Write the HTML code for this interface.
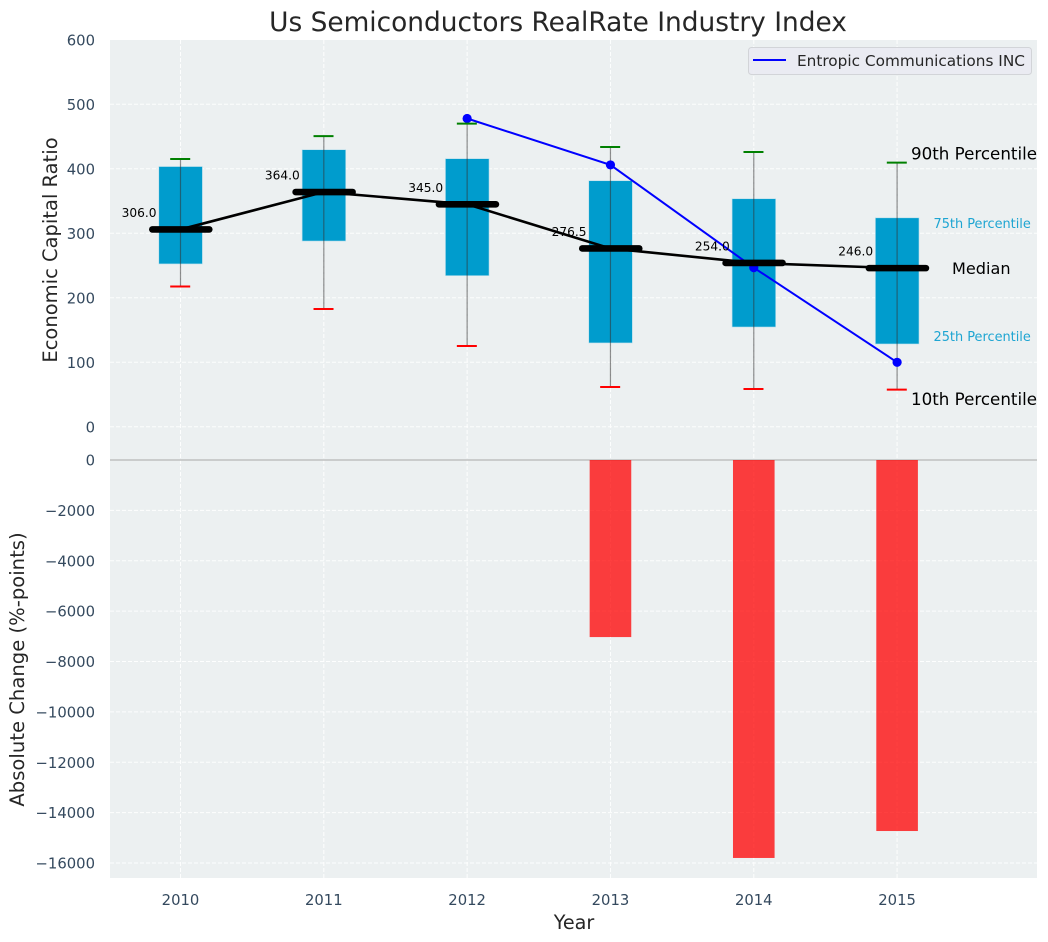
<!DOCTYPE html>
<html>
<head>
<meta charset="utf-8">
<title>Us Semiconductors RealRate Industry Index</title>
<style>
html,body{margin:0;padding:0;background:#fff;width:1048px;height:942px;overflow:hidden}
svg{display:block}
text{font-family:"DejaVu Sans","Liberation Sans",sans-serif}
</style>
</head>
<body>
<svg id="chart" width="1048" height="942" viewBox="0 0 1048 942" xmlns="http://www.w3.org/2000/svg">
  <rect x="110" y="40" width="927" height="838" fill="#ecf0f1"/>
  <g id="grid"></g>
  <line x1="110" x2="1037" y1="460" y2="460" stroke="#bfbfbf" stroke-width="1.5"/>
  <g id="bars"></g>
  <g id="boxes"></g>
  <g id="whiskers"></g>
  <g id="company"></g>
  <g id="medianline"></g>
  <g id="caps"></g>
  <g id="labels"></g>
  <g id="yticks"></g>
  <g id="xticks"></g>

  <text x="558" y="31" text-anchor="middle" font-size="26.4" fill="#262626">Us Semiconductors RealRate Industry Index</text>
  <text x="574" y="929" text-anchor="middle" font-size="19.2" fill="#262626">Year</text>
  <text transform="translate(57,250) rotate(-90)" text-anchor="middle" font-size="19.5" fill="#262626">Economic Capital Ratio</text>
  <text transform="translate(24,669.5) rotate(-90)" text-anchor="middle" font-size="19.6" fill="#262626">Absolute Change (%-points)</text>

  <g>
    <rect x="748.5" y="47.5" width="283" height="27" rx="3" fill="#eaeaf2" fill-opacity="0.9" stroke="#d2d4d8" stroke-width="1"/>
    <line x1="753" x2="786" y1="60" y2="60" stroke="#0000ff" stroke-width="2"/>
    <text x="797" y="66" font-size="15.3" fill="#262626">Entropic Communications INC</text>
  </g>

  <g>
    <text x="911" y="159.5" font-size="16.7" fill="#000">90th Percentile</text>
    <text x="933.5" y="228" font-size="12.9" fill="#1ea5d2">75th Percentile</text>
    <text x="952" y="274" font-size="16.1" fill="#000">Median</text>
    <text x="933.5" y="341" font-size="12.9" fill="#1ea5d2">25th Percentile</text>
    <text x="911" y="405" font-size="16.7" fill="#000">10th Percentile</text>
  </g>
</svg>
<script>
const years = [2010, 2011, 2012, 2013, 2014, 2015];
const p90 = [415.2, 450.6, 470, 433.8, 426, 409.5];
const p75 = [403.5, 429.6, 415.7, 381.5, 353.6, 324];
const medians = [306, 364, 345, 276.5, 254, 246];
const p25 = [252.5, 288, 234.3, 130, 154.7, 128.4];
const p10 = [217.5, 182.6, 125.3, 61.7, 58.6, 57.6];
const companyYears = [2012, 2013, 2014, 2015];
const companyValues = [478, 406, 246.7, 100];
const changeYears = [2013, 2014, 2015];
const changeValues = [-7030, -15800, -14730];
const topTicks = [0, 100, 200, 300, 400, 500, 600];
const bottomTicks = [0, -2000, -4000, -6000, -8000, -10000, -12000, -14000, -16000];

const NS = 'http://www.w3.org/2000/svg';
function xScale(year) { return 180.5 + (year - 2010) * 143.32; }
function yTop(v) { return 426.8 - v * 0.645; }
function yBottom(v) { return 460 - v * 0.025188; }
function make(parent, tag, attrs, text) {
  const el = document.createElementNS(NS, tag);
  for (const k in attrs) el.setAttribute(k, attrs[k]);
  if (text !== undefined) el.textContent = text;
  document.getElementById(parent).appendChild(el);
  return el;
}
function fmtTick(v) { return v < 0 ? '\u2212' + Math.abs(v) : String(v); }

const gridStyle = { stroke: '#ffffff', 'stroke-width': 1, 'stroke-dasharray': '4 2', 'stroke-opacity': 0.9 };
years.forEach(function (yr) {
  const x = xScale(yr);
  const vg = make('grid', 'line', Object.assign({ x1: x, x2: x, y1: 40, y2: 878 }, gridStyle));
  
  
  const t = make('xticks', 'text', { x: x, y: 905, 'text-anchor': 'middle', 'font-size': 14.8, fill: '#34495e' }, String(yr));
  
  
});
topTicks.forEach(function (v) {
  const y = yTop(v);
  if (v < 600) {
    const g = make('grid', 'line', Object.assign({ x1: 110, x2: 1037, y1: y, y2: y }, gridStyle));
    
    
  }
  const t = make('yticks', 'text', { x: 95, y: y + 5.5, 'text-anchor': 'end', 'font-size': 14.8, fill: '#34495e' }, fmtTick(v));
  
  
});
bottomTicks.forEach(function (v) {
  const y = yBottom(v);
  if (v !== 0) {
    const g = make('grid', 'line', Object.assign({ x1: 110, x2: 1037, y1: y, y2: y }, gridStyle));
    
    
  }
  const t = make('yticks', 'text', { x: 95, y: y + 5.5, 'text-anchor': 'end', 'font-size': 14.8, fill: '#34495e' }, fmtTick(v));
  
  
});

changeYears.forEach(function (yr, i) {
  const x = xScale(yr);
  const y0 = yBottom(0);
  const y1 = yBottom(changeValues[i]);
  const b = make('bars', 'rect', { x: x - 20.8, y: y0, width: 41.6, height: y1 - y0, fill: '#ff0000', 'fill-opacity': 0.75 });
  
  
});

years.forEach(function (yr, i) {
  const x = xScale(yr);
  const yHi = yTop(p75[i]);
  const yLo = yTop(p25[i]);
  const box = make('boxes', 'rect', { x: x - 21.7, y: yHi, width: 43.6, height: yLo - yHi, fill: '#009ccd', stroke: '#b9dfec', 'stroke-width': 0.6 });
  
  

  const w = make('whiskers', 'line', { x1: x, x2: x, y1: yTop(p90[i]), y2: yTop(p10[i]), stroke: '#333333', 'stroke-opacity': 0.55, 'stroke-width': 1.2 });
  
  

  const cu = make('caps', 'line', { x1: x - 10.3, x2: x + 9.7, y1: yTop(p90[i]), y2: yTop(p90[i]), stroke: '#008000', 'stroke-width': 2 });
  
  

  const cl = make('caps', 'line', { x1: x - 10.3, x2: x + 9.7, y1: yTop(p10[i]), y2: yTop(p10[i]), stroke: '#ff0000', 'stroke-width': 2 });
  
  

  const m = make('caps', 'line', { x1: x - 28.2, x2: x + 28.8, y1: yTop(medians[i]), y2: yTop(medians[i]), stroke: '#000000', 'stroke-width': 6.6, 'stroke-linecap': 'round' });
  
  

  const lab = make('labels', 'text', { x: x - 24, y: yTop(medians[i]) - 12.5, 'text-anchor': 'end', 'font-size': 12.2, fill: '#000000' }, medians[i].toFixed(1));
  
  
});

const companyLine = make('company', 'polyline', {
  points: companyYears.map(function (yr, i) { return xScale(yr) + ',' + yTop(companyValues[i]); }).join(' '),
  fill: 'none', stroke: '#0000ff', 'stroke-width': 2
});


companyYears.forEach(function (yr, i) {
  const d = make('company', 'circle', { cx: xScale(yr), cy: yTop(companyValues[i]), r: 4.6, fill: '#0000ff' });
  
  
});

const medianLine = make('medianline', 'polyline', {
  points: years.map(function (yr, i) { return xScale(yr) + ',' + yTop(medians[i]); }).join(' '),
  fill: 'none', stroke: '#000000', 'stroke-width': 2.6
});


</script>
</body>
</html>
